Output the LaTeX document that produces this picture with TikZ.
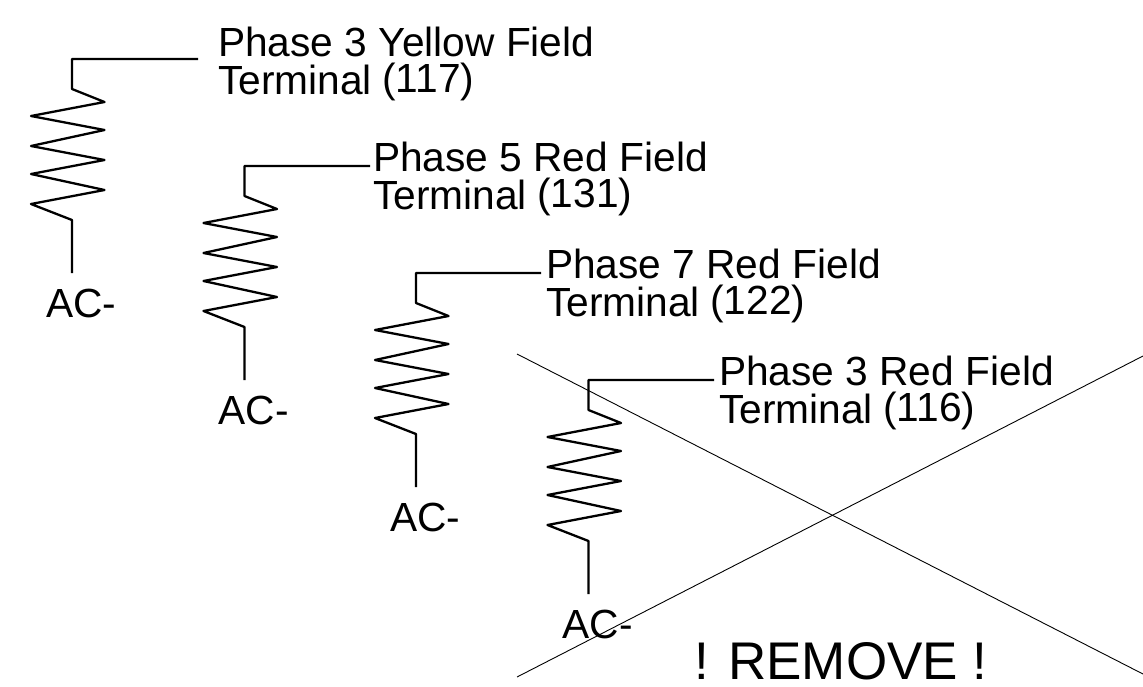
\documentclass[tikz,border=0pt]{standalone}
\usepackage{fontspec}
\setmainfont{Liberation Sans}
\tikzset{
  wire/.style={draw=black,line width=2.3pt,line join=round},
  cross/.style={draw=black,line width=0.9pt},
  lbl/.style={anchor=base west,inner sep=0pt,outer sep=0pt,font=\fontsize{40.7}{40.7}\selectfont},
  big/.style={anchor=base west,inner sep=0pt,outer sep=0pt,font=\fontsize{53}{53}\selectfont}
}
\newcommand{\coil}[7]{% id, dx, dy, line1 pos, line1, line2 pos, leadend
  \begin{scope}[shift={(#2,#3)}]
    \coordinate (#1lead) at (#7,59);
    \coordinate (#1foot) at (72,273);
    \draw[wire] (#1lead) -- (72,59) -- (72,89) -- (104.5,102) -- (31,116) -- (104.5,130) -- (31,146)
      -- (104.5,160) -- (31,174) -- (104.5,190) -- (31,204) -- (72,220) -- (#1foot);
    \node[lbl] (#1ac) at (46,317.5) {AC-};
  \end{scope}
  \node[lbl] (#1a) at (#4) {#5};
  \node[lbl] (#1b) at (#6) {Terminal};
  \node[lbl] (#1c) at ([xshift=10.5pt,yshift=2pt]#1b.base east) {(#1)};
}
\begin{document}
\begin{tikzpicture}[x=1pt,y=-1pt]
\useasboundingbox (0,0) rectangle (1143,686);
\coil{117}{0}{0}{218,56}{Phase 3 Yellow Field}{218,94}{198}
\coil{131}{172.5}{107}{373,171.5}{Phase 5 Red Field}{373,209}{197.5}
\coil{122}{344}{214}{546,278.5}{Phase 7 Red Field}{546,316}{197}
\coil{116}{516.5}{321}{719,385.5}{Phase 3 Red Field}{719,423}{197.5}
\coordinate (c1) at (517,354);
\coordinate (c2) at (1143,674);
\coordinate (c3) at (517,677);
\coordinate (c4) at (1143,356);
\draw[cross] (c1) -- (c2);
\draw[cross] (c3) -- (c4);
\node[big] (rem) at (694,679) {! REMOVE !};
\end{tikzpicture}
\end{document}
